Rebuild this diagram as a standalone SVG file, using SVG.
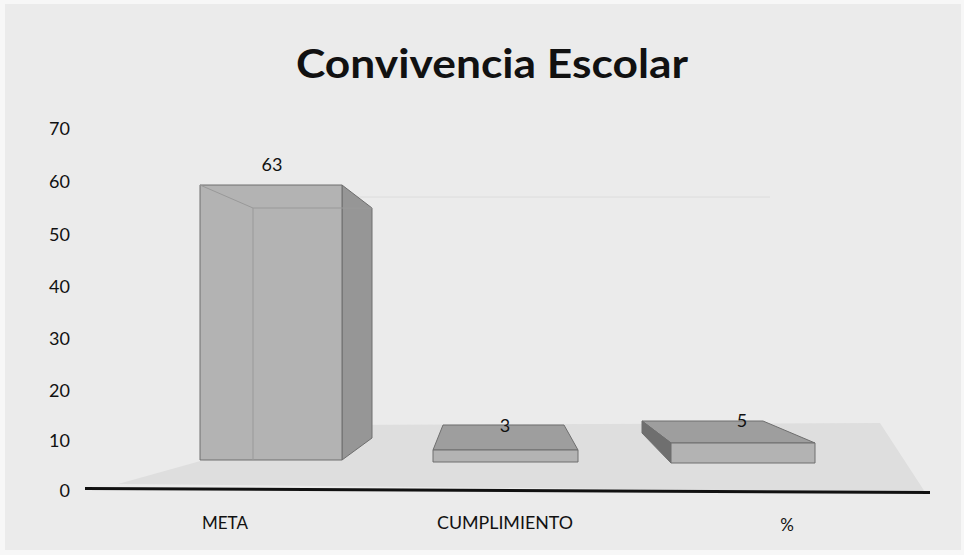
<svg xmlns="http://www.w3.org/2000/svg" width="964" height="555" viewBox="0 0 964 555">
<style>
.t{font-family:Lato,"Open Sans","Liberation Sans",sans-serif;fill:#111}
.ax{font-size:18px}
.cat{font-size:17px}
.val{font-size:18px}
.edge{stroke:#6e6e6e;stroke-width:1;stroke-linejoin:round}
.front{fill:#b3b3b3}
.side{fill:#969696}
.top{fill:#9e9e9e}
</style>
<rect width="964" height="555" fill="#f7f7f7"/>
<rect x="5" y="4" width="956" height="546" fill="#ebebeb"/>
<g id="floor">
<polygon points="118,484 330,425 880,423 925,492" fill="#dedede"/>
</g>
<line x1="350" y1="197" x2="770" y2="197" stroke="#dcdcdc" stroke-width="1"/>
<text class="t" x="492" y="78" font-size="40" font-weight="bold" text-anchor="middle" textLength="392" lengthAdjust="spacingAndGlyphs">Convivencia Escolar</text>
<g id="y-axis" class="t ax" text-anchor="end">
<text x="70" y="135">70</text>
<text x="70" y="188">60</text>
<text x="70" y="241">50</text>
<text x="70" y="293">40</text>
<text x="70" y="345">30</text>
<text x="70" y="397">20</text>
<text x="70" y="447">10</text>
<text x="70" y="497">0</text>
</g>
<g id="x-axis">
<polygon points="85,487 930,491 930,494 85,490" fill="#111"/>
</g>
<g id="bar-meta">
<polygon class="side edge" points="342,185 372,208 372,438 342,460"/>
<rect class="front edge" x="200" y="185" width="142" height="275"/>
<polyline points="200,185 253,208 372,208" fill="none" stroke="#999" stroke-width="1"/>
<line x1="253" y1="208" x2="253" y2="460" stroke="#999" stroke-width="1"/>
<text class="t val" x="272" y="171" text-anchor="middle">63</text>
</g>
<g id="bar-cumplimiento">
<polygon class="top edge" points="443,425 564,425 578,450 433,450"/>
<rect class="front edge" x="433" y="450" width="145" height="12"/>
<text class="t val" x="505" y="432" text-anchor="middle">3</text>
</g>
<g id="bar-pct">
<polygon class="top edge" points="642,421 763,421 815,443 671,443"/>
<polygon class="edge" fill="#6f6f6f" points="642,421 671,443 671,463 642,433"/>
<rect class="front edge" x="671" y="443" width="144" height="20"/>
<text class="t val" x="742" y="427" text-anchor="middle">5</text>
</g>
<g id="categories" class="t cat" text-anchor="middle">
<text x="225" y="529">META</text>
<text x="505" y="529" textLength="136" lengthAdjust="spacingAndGlyphs">CUMPLIMIENTO</text>
<text x="787" y="531">%</text>
</g>
</svg>
